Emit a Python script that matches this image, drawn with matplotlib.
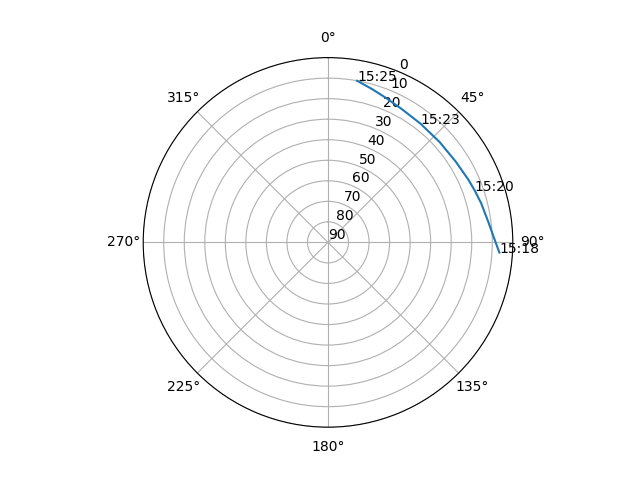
import numpy as np
import matplotlib
matplotlib.use("Agg")
import matplotlib.pyplot as plt

# satellite track in time order: azimuth (deg, clockwise from north), elevation (deg)
track_az = [93.4, 88.5, 82.7, 75.7, 70.6, 66.0, 57.6, 48.0, 37.9, 29.0, 21.6, 16.0, 10.2]
track_el = [6.4, 9.1, 11.3, 13.0, 14.2, 15.1, 16.4, 16.9, 16.7, 15.8, 14.1, 12.3, 10.0]

# time labels and which track point they sit on
label_times = ["15:18", "15:20", "15:23", "15:25"]
label_idx = [0, 4, 8, 12]

fig = plt.figure(figsize=(6.4, 4.8), dpi=100)
ax = fig.add_subplot(projection="polar")
ax.set_theta_zero_location("N")
ax.set_theta_direction(-1)

ax.plot(np.radians(track_az), track_el)
for t, i in zip(label_times, label_idx):
    ax.text(np.radians(track_az[i]), track_el[i], t)

ax.set_ylim(90, 0)
ax.set_yticks(range(0, 91, 10))

fig.savefig("out.png")
